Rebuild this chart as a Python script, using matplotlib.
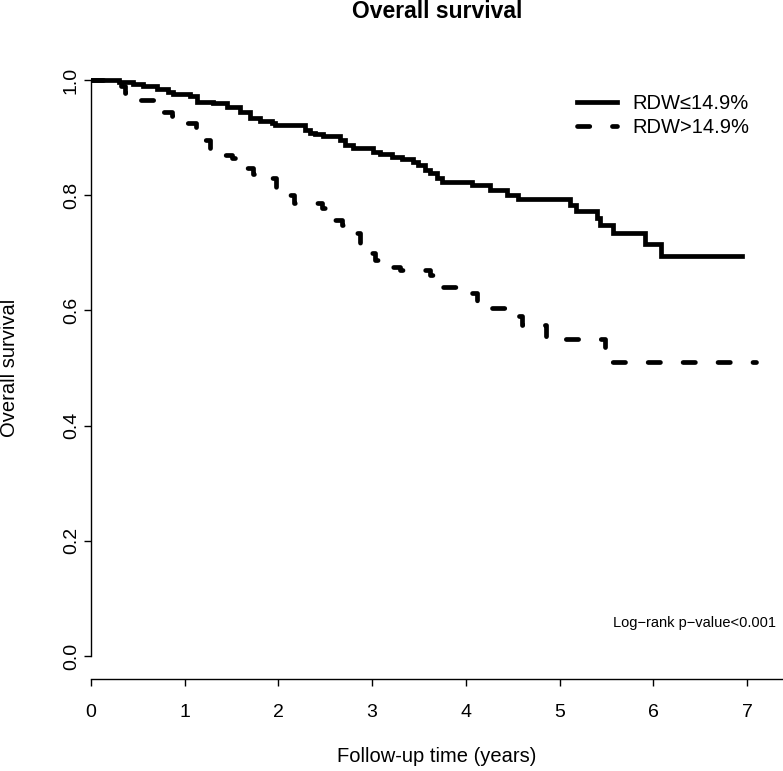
import matplotlib
matplotlib.use("Agg")
import matplotlib.pyplot as plt
import numpy as np

plt.rcParams['font.family'] = ['Liberation Sans', 'DejaVu Sans']

# Kaplan-Meier step data (time in years, survival after the step)
time_low = [0.0, 0.30, 0.45, 0.55, 0.70, 0.82, 0.88, 1.06, 1.13, 1.30, 1.45, 1.59,
            1.70, 1.80, 1.93, 1.96, 2.28, 2.34, 2.39, 2.48, 2.66, 2.71, 2.80, 3.01,
            3.08, 3.21, 3.32, 3.44, 3.49, 3.56, 3.62, 3.69, 3.75, 4.07, 4.26, 4.44,
            4.56, 5.11, 5.17, 5.40, 5.43, 5.57, 5.91, 6.08]
surv_low = [1.0, 0.997, 0.993, 0.990, 0.984, 0.979, 0.976, 0.972, 0.962, 0.960, 0.953, 0.944,
            0.934, 0.929, 0.925, 0.922, 0.913, 0.908, 0.906, 0.903, 0.896, 0.887, 0.882, 0.875,
            0.871, 0.866, 0.863, 0.857, 0.852, 0.843, 0.838, 0.830, 0.823, 0.817, 0.809, 0.800,
            0.793, 0.783, 0.772, 0.760, 0.748, 0.734, 0.715, 0.694]
end_low = 6.95

time_high = [0.0, 0.32, 0.36, 0.45, 0.74, 0.86, 0.97, 1.12, 1.20, 1.27, 1.35, 1.50,
             1.62, 1.73, 1.85, 1.97, 2.08, 2.17, 2.47, 2.57, 2.68, 2.80, 2.87, 2.95,
             3.03, 3.15, 3.30, 3.62, 3.72, 3.98, 4.12, 4.25, 4.55, 4.60, 4.85, 5.48, 5.55]
surv_high = [1.0, 0.990, 0.977, 0.966, 0.944, 0.937, 0.925, 0.915, 0.896, 0.882, 0.870, 0.864,
             0.847, 0.837, 0.830, 0.814, 0.800, 0.786, 0.777, 0.757, 0.748, 0.734, 0.717, 0.700,
             0.687, 0.675, 0.670, 0.661, 0.640, 0.631, 0.617, 0.605, 0.591, 0.574, 0.551, 0.532, 0.511]
end_high = 7.10

labels = ["RDW\u226414.9%", "RDW>14.9%"]
x_ticks = [0, 1, 2, 3, 4, 5, 6, 7]
y_ticks = [0.0, 0.2, 0.4, 0.6, 0.8, 1.0]

W, H = 783, 771
fig = plt.figure(figsize=(W / 100, H / 100), dpi=100)
L, R, B, T = 91, 783, 679, 57
ax = fig.add_axes([L / W, (H - B) / H, (R - L) / W, (B - T) / H])

lw = 3.4
ax.step(time_low + [end_low], surv_low + [surv_low[-1]], where='post',
        color='black', lw=lw, solid_joinstyle='miter', label=labels[0])
ln, = ax.step(time_high + [end_high], surv_high + [surv_high[-1]], where='post',
              color='black', lw=lw, label=labels[1])
ln.set_dashes((2.6, 4.8))
ln.set_dash_capstyle('round')

xmax = end_high * 1.04
ax.set_xlim(0, xmax)
ax.set_ylim(-0.04, 1.04)
for s in ['top', 'right']:
    ax.spines[s].set_visible(False)
ax.spines['left'].set_bounds(0, 1)
ax.spines['bottom'].set_bounds(0, xmax)
ax.spines['left'].set_linewidth(1.0)
ax.spines['bottom'].set_linewidth(1.0)

ax.set_xticks(x_ticks)
ax.set_xticklabels([str(v) for v in x_ticks])
ax.set_yticks(y_ticks)
ax.set_yticklabels([f"{v:.1f}" for v in y_ticks], rotation=90, va='center')
ax.tick_params(axis='both', direction='out', length=5, width=1.0, labelsize=14)
ax.tick_params(axis='x', pad=13)
ax.tick_params(axis='y', pad=3)

ax.set_xlabel("Follow-up time (years)", fontsize=14.5)
ax.set_ylabel("Overall survival", fontsize=14.5)
ax.xaxis.set_label_coords(0.5, (B - 756) / (B - T))
ax.xaxis.label.set_va('center')
ax.yaxis.set_label_coords((10 - L) / (R - L), 0.5)
ax.yaxis.label.set_va('center')
ax.set_title("Overall survival", fontsize=16.5, fontweight='bold',
             y=(B - 12) / (B - T), va='center', pad=0)

leg = ax.legend(loc='upper left', bbox_to_anchor=((577 - L) / (R - L), (B - 94) / (B - T)),
                frameon=False, fontsize=14.5, handlelength=2.0, handletextpad=0.75,
                labelspacing=0.25, borderpad=0, borderaxespad=0)

ax.text((776 - L) / 93.7, (655 - 622) / 575, "Log\u2212rank p\u2212value<0.001",
        ha='right', va='center', fontsize=10.5)

fig.savefig("out.png", dpi=100)
